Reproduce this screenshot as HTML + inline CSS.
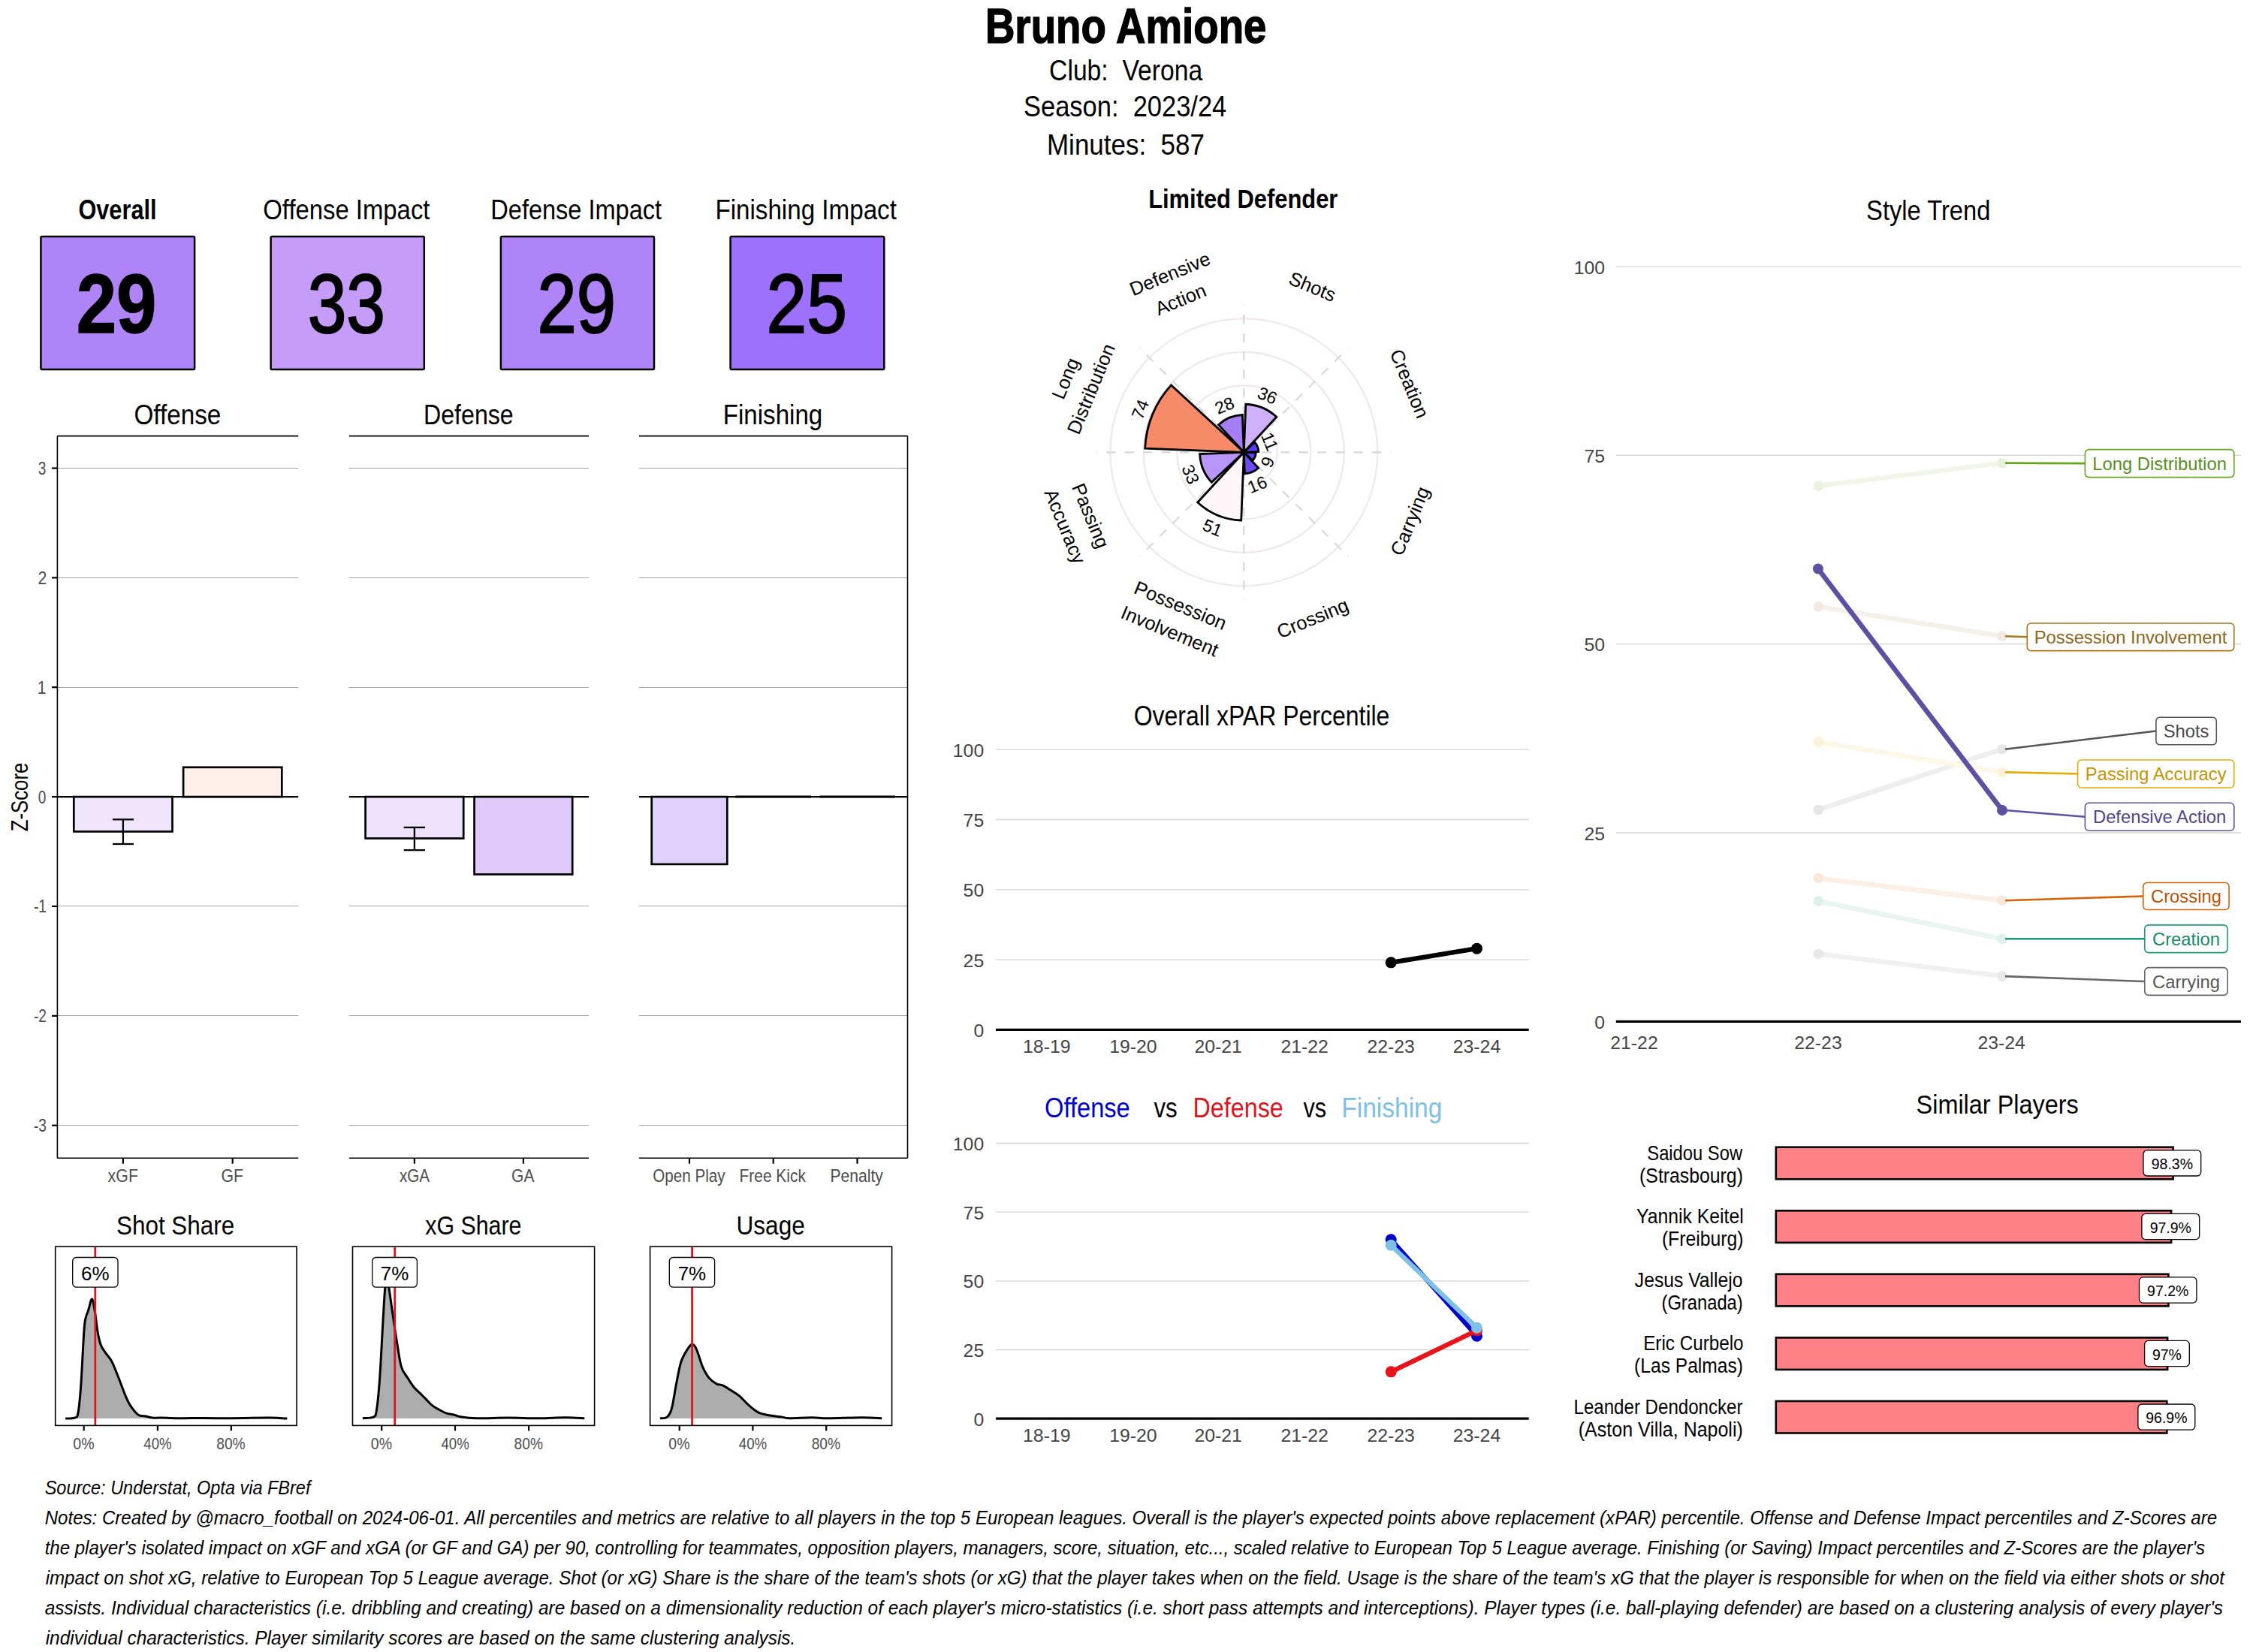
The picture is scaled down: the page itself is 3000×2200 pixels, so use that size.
<!DOCTYPE html>
<html><head><meta charset="utf-8"><style>
html,body{margin:0;padding:0;background:#fff;}
svg{display:block;}
text{font-family:"Liberation Sans", sans-serif;white-space:pre;}
</style></head><body>
<svg width="3000" height="2200" viewBox="0 0 3000 2200">
<rect x="0" y="0" width="3000" height="2200" fill="#fff"/>
<text x="1311.90" y="57.20" font-size="64.25" font-weight="bold" font-style="normal" fill="#000" textLength="374.54" lengthAdjust="spacingAndGlyphs" stroke="#000" stroke-width="1.4">Bruno Amione</text>
<text x="1397.09" y="106.90" font-size="38.13" font-weight="normal" font-style="normal" fill="#000" textLength="204.05" lengthAdjust="spacingAndGlyphs" >Club:  Verona</text>
<text x="1363.00" y="154.50" font-size="38.13" font-weight="normal" font-style="normal" fill="#000" textLength="270.23" lengthAdjust="spacingAndGlyphs" >Season:  2023/24</text>
<text x="1394.00" y="205.60" font-size="38.13" font-weight="normal" font-style="normal" fill="#000" textLength="209.85" lengthAdjust="spacingAndGlyphs" >Minutes:  587</text>
<text x="104.40" y="292.10" font-size="36.31" font-weight="bold" font-style="normal" fill="#000" textLength="104.13" lengthAdjust="spacingAndGlyphs" >Overall</text>
<rect x="54.40" y="314.90" width="204.70" height="177.00" fill="#ae84f7" stroke="#000" stroke-width="2.5" rx="1.5"/>
<text x="101.72" y="442.60" font-size="111.03" font-weight="bold" font-style="normal" fill="#000" textLength="106.70" lengthAdjust="spacingAndGlyphs" stroke="#000" stroke-width="1.4">29</text>
<text x="350.30" y="292.10" font-size="36.31" font-weight="normal" font-style="normal" fill="#000" textLength="222.15" lengthAdjust="spacingAndGlyphs" >Offense Impact</text>
<rect x="360.60" y="314.90" width="204.20" height="177.00" fill="#c59df9" stroke="#000" stroke-width="2.5" rx="1.5"/>
<text x="409.68" y="442.60" font-size="111.03" font-weight="normal" font-style="normal" fill="#000" textLength="103.35" lengthAdjust="spacingAndGlyphs" stroke="#000" stroke-width="2.2">33</text>
<text x="653.30" y="292.10" font-size="36.31" font-weight="normal" font-style="normal" fill="#000" textLength="227.79" lengthAdjust="spacingAndGlyphs" >Defense Impact</text>
<rect x="666.90" y="314.90" width="204.10" height="177.00" fill="#ae84f7" stroke="#000" stroke-width="2.5" rx="1.5"/>
<text x="715.47" y="442.60" font-size="111.03" font-weight="normal" font-style="normal" fill="#000" textLength="104.48" lengthAdjust="spacingAndGlyphs" stroke="#000" stroke-width="2.2">29</text>
<text x="952.41" y="292.10" font-size="36.31" font-weight="normal" font-style="normal" fill="#000" textLength="241.48" lengthAdjust="spacingAndGlyphs" >Finishing Impact</text>
<rect x="972.60" y="314.90" width="204.70" height="177.00" fill="#9d71fc" stroke="#000" stroke-width="2.5" rx="1.5"/>
<text x="1020.61" y="442.60" font-size="111.03" font-weight="normal" font-style="normal" fill="#000" textLength="107.46" lengthAdjust="spacingAndGlyphs" stroke="#000" stroke-width="2.2">25</text>
<text x="178.50" y="564.70" font-size="37.71" font-weight="normal" font-style="normal" fill="#000" textLength="115.87" lengthAdjust="spacingAndGlyphs" >Offense</text>
<line x1="76.40" y1="623.50" x2="397.20" y2="623.50" stroke="#a0a0a0" stroke-width="1.0" />
<line x1="76.40" y1="769.50" x2="397.20" y2="769.50" stroke="#a0a0a0" stroke-width="1.0" />
<line x1="76.40" y1="915.50" x2="397.20" y2="915.50" stroke="#a0a0a0" stroke-width="1.0" />
<line x1="76.40" y1="1206.50" x2="397.20" y2="1206.50" stroke="#a0a0a0" stroke-width="1.0" />
<line x1="76.40" y1="1352.50" x2="397.20" y2="1352.50" stroke="#a0a0a0" stroke-width="1.0" />
<line x1="76.40" y1="1498.50" x2="397.20" y2="1498.50" stroke="#a0a0a0" stroke-width="1.0" />
<line x1="76.40" y1="580.60" x2="397.20" y2="580.60" stroke="#000" stroke-width="1.6" />
<line x1="76.40" y1="1542.20" x2="397.20" y2="1542.20" stroke="#000" stroke-width="1.6" />
<text x="563.99" y="564.70" font-size="37.71" font-weight="normal" font-style="normal" fill="#000" textLength="119.76" lengthAdjust="spacingAndGlyphs" >Defense</text>
<line x1="464.80" y1="623.50" x2="784.00" y2="623.50" stroke="#a0a0a0" stroke-width="1.0" />
<line x1="464.80" y1="769.50" x2="784.00" y2="769.50" stroke="#a0a0a0" stroke-width="1.0" />
<line x1="464.80" y1="915.50" x2="784.00" y2="915.50" stroke="#a0a0a0" stroke-width="1.0" />
<line x1="464.80" y1="1206.50" x2="784.00" y2="1206.50" stroke="#a0a0a0" stroke-width="1.0" />
<line x1="464.80" y1="1352.50" x2="784.00" y2="1352.50" stroke="#a0a0a0" stroke-width="1.0" />
<line x1="464.80" y1="1498.50" x2="784.00" y2="1498.50" stroke="#a0a0a0" stroke-width="1.0" />
<line x1="464.80" y1="580.60" x2="784.00" y2="580.60" stroke="#000" stroke-width="1.6" />
<line x1="464.80" y1="1542.20" x2="784.00" y2="1542.20" stroke="#000" stroke-width="1.6" />
<text x="962.80" y="564.70" font-size="37.71" font-weight="normal" font-style="normal" fill="#000" textLength="132.44" lengthAdjust="spacingAndGlyphs" >Finishing</text>
<line x1="850.90" y1="623.50" x2="1208.50" y2="623.50" stroke="#a0a0a0" stroke-width="1.0" />
<line x1="850.90" y1="769.50" x2="1208.50" y2="769.50" stroke="#a0a0a0" stroke-width="1.0" />
<line x1="850.90" y1="915.50" x2="1208.50" y2="915.50" stroke="#a0a0a0" stroke-width="1.0" />
<line x1="850.90" y1="1206.50" x2="1208.50" y2="1206.50" stroke="#a0a0a0" stroke-width="1.0" />
<line x1="850.90" y1="1352.50" x2="1208.50" y2="1352.50" stroke="#a0a0a0" stroke-width="1.0" />
<line x1="850.90" y1="1498.50" x2="1208.50" y2="1498.50" stroke="#a0a0a0" stroke-width="1.0" />
<line x1="850.90" y1="580.60" x2="1208.50" y2="580.60" stroke="#000" stroke-width="1.6" />
<line x1="850.90" y1="1542.20" x2="1208.50" y2="1542.20" stroke="#000" stroke-width="1.6" />
<line x1="76.40" y1="580.60" x2="76.40" y2="1542.20" stroke="#000" stroke-width="1.6" />
<line x1="1208.50" y1="580.60" x2="1208.50" y2="1542.20" stroke="#000" stroke-width="1.6" />
<line x1="69.00" y1="623.49" x2="76.40" y2="623.49" stroke="#000" stroke-width="2.2" />
<text x="50.69" y="631.89" font-size="23.46" font-weight="normal" font-style="normal" fill="#4d4d4d" textLength="10.65" lengthAdjust="spacingAndGlyphs" >3</text>
<line x1="69.00" y1="769.36" x2="76.40" y2="769.36" stroke="#000" stroke-width="2.2" />
<text x="50.58" y="777.76" font-size="23.46" font-weight="normal" font-style="normal" fill="#4d4d4d" textLength="11.83" lengthAdjust="spacingAndGlyphs" >2</text>
<line x1="69.00" y1="915.23" x2="76.40" y2="915.23" stroke="#000" stroke-width="2.2" />
<text x="49.75" y="923.63" font-size="23.46" font-weight="normal" font-style="normal" fill="#4d4d4d" textLength="11.71" lengthAdjust="spacingAndGlyphs" >1</text>
<line x1="69.00" y1="1061.10" x2="76.40" y2="1061.10" stroke="#000" stroke-width="2.2" />
<text x="50.69" y="1069.50" font-size="23.46" font-weight="normal" font-style="normal" fill="#4d4d4d" textLength="10.65" lengthAdjust="spacingAndGlyphs" >0</text>
<line x1="69.00" y1="1206.97" x2="76.40" y2="1206.97" stroke="#000" stroke-width="2.2" />
<text x="44.96" y="1215.37" font-size="23.46" font-weight="normal" font-style="normal" fill="#4d4d4d" textLength="17.03" lengthAdjust="spacingAndGlyphs" >-1</text>
<line x1="69.00" y1="1352.84" x2="76.40" y2="1352.84" stroke="#000" stroke-width="2.2" />
<text x="44.96" y="1361.24" font-size="23.46" font-weight="normal" font-style="normal" fill="#4d4d4d" textLength="17.03" lengthAdjust="spacingAndGlyphs" >-2</text>
<line x1="69.00" y1="1498.71" x2="76.40" y2="1498.71" stroke="#000" stroke-width="2.2" />
<text x="44.96" y="1507.11" font-size="23.46" font-weight="normal" font-style="normal" fill="#4d4d4d" textLength="17.03" lengthAdjust="spacingAndGlyphs" >-3</text>
<g transform="translate(36.9,1061.4) rotate(-90)">
<text x="-45.92" y="0.00" font-size="31.15" font-weight="normal" font-style="normal" fill="#000" textLength="91.67" lengthAdjust="spacingAndGlyphs" >Z-Score</text>
</g>
<line x1="76.40" y1="1061.10" x2="397.20" y2="1061.10" stroke="#000" stroke-width="2.2" />
<line x1="464.80" y1="1061.10" x2="784.00" y2="1061.10" stroke="#000" stroke-width="2.2" />
<line x1="850.90" y1="1061.10" x2="1208.50" y2="1061.10" stroke="#000" stroke-width="2.2" />
<rect x="98.30" y="1061.10" width="131.20" height="46.30" fill="#efe6fd" stroke="#000" stroke-width="2.7" />
<rect x="244.10" y="1021.80" width="131.20" height="39.30" fill="#feefea" stroke="#000" stroke-width="2.7" />
<rect x="486.60" y="1061.10" width="130.60" height="55.40" fill="#ede1fc" stroke="#000" stroke-width="2.7" />
<rect x="631.60" y="1061.10" width="130.60" height="103.30" fill="#e0c9fb" stroke="#000" stroke-width="2.7" />
<rect x="867.70" y="1061.10" width="100.60" height="89.80" fill="#ded1fb" stroke="#000" stroke-width="2.7" />
<line x1="979.40" y1="1061.10" x2="1080.00" y2="1061.10" stroke="#000" stroke-width="3" />
<line x1="1091.20" y1="1061.10" x2="1191.80" y2="1061.10" stroke="#000" stroke-width="3" />
<line x1="163.90" y1="1091.30" x2="163.90" y2="1124.00" stroke="#000" stroke-width="2.3" />
<line x1="150.00" y1="1091.30" x2="178.00" y2="1091.30" stroke="#000" stroke-width="2.3" />
<line x1="150.00" y1="1124.00" x2="178.00" y2="1124.00" stroke="#000" stroke-width="2.3" />
<line x1="551.90" y1="1101.90" x2="551.90" y2="1132.10" stroke="#000" stroke-width="2.3" />
<line x1="537.70" y1="1101.90" x2="566.00" y2="1101.90" stroke="#000" stroke-width="2.3" />
<line x1="537.70" y1="1132.10" x2="566.00" y2="1132.10" stroke="#000" stroke-width="2.3" />
<line x1="163.90" y1="1542.20" x2="163.90" y2="1549.70" stroke="#000" stroke-width="2.2" />
<text x="143.59" y="1573.90" font-size="24.30" font-weight="normal" font-style="normal" fill="#4d4d4d" textLength="40.35" lengthAdjust="spacingAndGlyphs" >xGF</text>
<line x1="309.70" y1="1542.20" x2="309.70" y2="1549.70" stroke="#000" stroke-width="2.2" />
<text x="294.53" y="1573.90" font-size="24.30" font-weight="normal" font-style="normal" fill="#4d4d4d" textLength="29.54" lengthAdjust="spacingAndGlyphs" >GF</text>
<line x1="551.90" y1="1542.20" x2="551.90" y2="1549.70" stroke="#000" stroke-width="2.2" />
<text x="532.00" y="1573.90" font-size="24.30" font-weight="normal" font-style="normal" fill="#4d4d4d" textLength="40.13" lengthAdjust="spacingAndGlyphs" >xGA</text>
<line x1="696.90" y1="1542.20" x2="696.90" y2="1549.70" stroke="#000" stroke-width="2.2" />
<text x="681.11" y="1573.90" font-size="24.30" font-weight="normal" font-style="normal" fill="#4d4d4d" textLength="30.35" lengthAdjust="spacingAndGlyphs" >GA</text>
<line x1="918.00" y1="1542.20" x2="918.00" y2="1549.70" stroke="#000" stroke-width="2.2" />
<text x="869.33" y="1573.90" font-size="24.30" font-weight="normal" font-style="normal" fill="#4d4d4d" textLength="96.33" lengthAdjust="spacingAndGlyphs" >Open Play</text>
<line x1="1029.70" y1="1542.20" x2="1029.70" y2="1549.70" stroke="#000" stroke-width="2.2" />
<text x="984.52" y="1573.90" font-size="24.30" font-weight="normal" font-style="normal" fill="#4d4d4d" textLength="88.32" lengthAdjust="spacingAndGlyphs" >Free Kick</text>
<line x1="1141.50" y1="1542.20" x2="1141.50" y2="1549.70" stroke="#000" stroke-width="2.2" />
<text x="1105.46" y="1573.90" font-size="24.30" font-weight="normal" font-style="normal" fill="#4d4d4d" textLength="70.40" lengthAdjust="spacingAndGlyphs" >Penalty</text>
<!--DENS-->
<text x="155.01" y="1644.20" font-size="34.50" font-weight="normal" font-style="normal" fill="#000" textLength="157.22" lengthAdjust="spacingAndGlyphs" >Shot Share</text>
<path d="M87.04,1889.12 C89.10,1888.95 96.58,1889.30 99.39,1888.10 C102.20,1886.90 102.54,1888.78 103.92,1881.92 C105.29,1875.06 106.32,1864.77 107.62,1846.94 C108.92,1829.10 110.71,1790.01 111.73,1774.92 C112.76,1759.82 112.76,1761.54 113.79,1756.39 C114.82,1751.25 116.60,1748.33 117.91,1744.05 C119.21,1739.76 120.58,1732.39 121.61,1730.67 C122.64,1728.96 123.16,1730.16 124.08,1733.76 C125.01,1737.36 126.14,1745.42 127.17,1752.28 C128.20,1759.14 129.05,1768.40 130.26,1774.92 C131.46,1781.43 132.66,1786.92 134.37,1791.38 C136.09,1795.84 138.14,1798.07 140.54,1801.67 C142.95,1805.27 146.03,1807.84 148.78,1812.98 C151.52,1818.13 153.92,1824.82 157.01,1832.53 C160.09,1840.25 164.55,1852.77 167.30,1859.29 C170.04,1865.80 170.73,1867.52 173.47,1871.63 C176.21,1875.75 181.01,1881.65 183.76,1883.98 C186.50,1886.31 188.22,1885.28 189.93,1885.63 C191.65,1885.97 191.99,1885.63 194.05,1886.04 C196.11,1886.45 198.85,1887.75 202.28,1888.10 C205.71,1888.44 209.14,1887.99 214.63,1888.10 C220.11,1888.20 228.34,1888.64 235.20,1888.71 C242.06,1888.78 245.49,1888.51 255.78,1888.51 C266.07,1888.51 279.79,1888.78 296.94,1888.71 C314.09,1888.64 344.44,1888.03 358.67,1888.10 C372.91,1888.16 378.39,1888.95 382.34,1889.12 L382.34,1889.10 L87.04,1889.10 Z" fill="#adadad" stroke="none"/>
<path d="M87.04,1889.12 C89.10,1888.95 96.58,1889.30 99.39,1888.10 C102.20,1886.90 102.54,1888.78 103.92,1881.92 C105.29,1875.06 106.32,1864.77 107.62,1846.94 C108.92,1829.10 110.71,1790.01 111.73,1774.92 C112.76,1759.82 112.76,1761.54 113.79,1756.39 C114.82,1751.25 116.60,1748.33 117.91,1744.05 C119.21,1739.76 120.58,1732.39 121.61,1730.67 C122.64,1728.96 123.16,1730.16 124.08,1733.76 C125.01,1737.36 126.14,1745.42 127.17,1752.28 C128.20,1759.14 129.05,1768.40 130.26,1774.92 C131.46,1781.43 132.66,1786.92 134.37,1791.38 C136.09,1795.84 138.14,1798.07 140.54,1801.67 C142.95,1805.27 146.03,1807.84 148.78,1812.98 C151.52,1818.13 153.92,1824.82 157.01,1832.53 C160.09,1840.25 164.55,1852.77 167.30,1859.29 C170.04,1865.80 170.73,1867.52 173.47,1871.63 C176.21,1875.75 181.01,1881.65 183.76,1883.98 C186.50,1886.31 188.22,1885.28 189.93,1885.63 C191.65,1885.97 191.99,1885.63 194.05,1886.04 C196.11,1886.45 198.85,1887.75 202.28,1888.10 C205.71,1888.44 209.14,1887.99 214.63,1888.10 C220.11,1888.20 228.34,1888.64 235.20,1888.71 C242.06,1888.78 245.49,1888.51 255.78,1888.51 C266.07,1888.51 279.79,1888.78 296.94,1888.71 C314.09,1888.64 344.44,1888.03 358.67,1888.10 C372.91,1888.16 378.39,1888.95 382.34,1889.12" fill="none" stroke="#000" stroke-width="3.0" stroke-linejoin="round"/>
<line x1="126.80" y1="1660.10" x2="126.80" y2="1898.40" stroke="#dc1420" stroke-width="2.8" />
<rect x="96.70" y="1674.50" width="60.30" height="39.70" fill="#fff" stroke="#000" stroke-width="1.3" rx="5"/>
<text x="126.85" y="1705.00" font-size="26.00" font-weight="normal" fill="#000" text-anchor="middle" >6%</text>
<rect x="73.70" y="1660.10" width="321.40" height="238.30" fill="none" stroke="#000" stroke-width="1.6" />
<line x1="111.70" y1="1898.40" x2="111.70" y2="1905.40" stroke="#000" stroke-width="2.2" />
<text x="97.32" y="1930.30" font-size="22.07" font-weight="normal" font-style="normal" fill="#4d4d4d" textLength="28.25" lengthAdjust="spacingAndGlyphs" >0%</text>
<line x1="209.90" y1="1898.40" x2="209.90" y2="1905.40" stroke="#000" stroke-width="2.2" />
<text x="191.36" y="1930.30" font-size="22.07" font-weight="normal" font-style="normal" fill="#4d4d4d" textLength="37.35" lengthAdjust="spacingAndGlyphs" >40%</text>
<line x1="307.80" y1="1898.40" x2="307.80" y2="1905.40" stroke="#000" stroke-width="2.2" />
<text x="288.26" y="1930.30" font-size="22.07" font-weight="normal" font-style="normal" fill="#4d4d4d" textLength="38.41" lengthAdjust="spacingAndGlyphs" >80%</text>
<text x="566.30" y="1644.20" font-size="34.50" font-weight="normal" font-style="normal" fill="#000" textLength="128.03" lengthAdjust="spacingAndGlyphs" >xG Share</text>
<path d="M482.93,1888.71 C485.33,1888.44 494.24,1888.88 497.33,1887.07 C500.42,1885.25 500.07,1886.21 501.45,1877.81 C502.82,1869.40 504.19,1855.51 505.56,1836.65 C506.93,1817.79 508.48,1784.86 509.68,1764.63 C510.88,1744.39 511.80,1724.84 512.76,1715.24 C513.72,1705.64 514.58,1707.01 515.44,1707.01 C516.30,1707.01 516.81,1709.06 517.91,1715.24 C519.01,1721.41 520.31,1732.39 522.02,1744.05 C523.74,1755.71 526.14,1772.51 528.20,1785.20 C530.26,1797.89 531.97,1811.96 534.37,1820.19 C536.77,1828.42 539.86,1830.13 542.60,1834.59 C545.35,1839.05 548.09,1843.51 550.83,1846.94 C553.58,1850.37 556.32,1852.43 559.06,1855.17 C561.81,1857.91 564.55,1860.66 567.30,1863.40 C570.04,1866.15 572.78,1869.40 575.53,1871.63 C578.27,1873.86 580.67,1875.06 583.76,1876.78 C586.85,1878.49 590.62,1880.72 594.05,1881.92 C597.48,1883.12 600.91,1883.12 604.34,1883.98 C607.77,1884.84 609.48,1886.28 614.63,1887.07 C619.77,1887.86 624.92,1888.54 635.20,1888.71 C645.49,1888.88 662.64,1888.10 676.36,1888.10 C690.08,1888.10 704.83,1888.78 717.52,1888.71 C730.21,1888.64 742.38,1887.68 752.50,1887.68 C762.62,1887.68 773.94,1888.54 778.22,1888.71 L778.22,1889.10 L482.93,1889.10 Z" fill="#adadad" stroke="none"/>
<path d="M482.93,1888.71 C485.33,1888.44 494.24,1888.88 497.33,1887.07 C500.42,1885.25 500.07,1886.21 501.45,1877.81 C502.82,1869.40 504.19,1855.51 505.56,1836.65 C506.93,1817.79 508.48,1784.86 509.68,1764.63 C510.88,1744.39 511.80,1724.84 512.76,1715.24 C513.72,1705.64 514.58,1707.01 515.44,1707.01 C516.30,1707.01 516.81,1709.06 517.91,1715.24 C519.01,1721.41 520.31,1732.39 522.02,1744.05 C523.74,1755.71 526.14,1772.51 528.20,1785.20 C530.26,1797.89 531.97,1811.96 534.37,1820.19 C536.77,1828.42 539.86,1830.13 542.60,1834.59 C545.35,1839.05 548.09,1843.51 550.83,1846.94 C553.58,1850.37 556.32,1852.43 559.06,1855.17 C561.81,1857.91 564.55,1860.66 567.30,1863.40 C570.04,1866.15 572.78,1869.40 575.53,1871.63 C578.27,1873.86 580.67,1875.06 583.76,1876.78 C586.85,1878.49 590.62,1880.72 594.05,1881.92 C597.48,1883.12 600.91,1883.12 604.34,1883.98 C607.77,1884.84 609.48,1886.28 614.63,1887.07 C619.77,1887.86 624.92,1888.54 635.20,1888.71 C645.49,1888.88 662.64,1888.10 676.36,1888.10 C690.08,1888.10 704.83,1888.78 717.52,1888.71 C730.21,1888.64 742.38,1887.68 752.50,1887.68 C762.62,1887.68 773.94,1888.54 778.22,1888.71" fill="none" stroke="#000" stroke-width="3.0" stroke-linejoin="round"/>
<line x1="525.70" y1="1660.10" x2="525.70" y2="1898.40" stroke="#dc1420" stroke-width="2.8" />
<rect x="495.70" y="1674.50" width="59.70" height="39.70" fill="#fff" stroke="#000" stroke-width="1.3" rx="5"/>
<text x="525.55" y="1705.00" font-size="26.00" font-weight="normal" fill="#000" text-anchor="middle" >7%</text>
<rect x="469.50" y="1660.10" width="322.10" height="238.30" fill="none" stroke="#000" stroke-width="1.6" />
<line x1="508.20" y1="1898.40" x2="508.20" y2="1905.40" stroke="#000" stroke-width="2.2" />
<text x="493.82" y="1930.30" font-size="22.07" font-weight="normal" font-style="normal" fill="#4d4d4d" textLength="28.25" lengthAdjust="spacingAndGlyphs" >0%</text>
<line x1="606.00" y1="1898.40" x2="606.00" y2="1905.40" stroke="#000" stroke-width="2.2" />
<text x="587.46" y="1930.30" font-size="22.07" font-weight="normal" font-style="normal" fill="#4d4d4d" textLength="37.35" lengthAdjust="spacingAndGlyphs" >40%</text>
<line x1="704.10" y1="1898.40" x2="704.10" y2="1905.40" stroke="#000" stroke-width="2.2" />
<text x="684.56" y="1930.30" font-size="22.07" font-weight="normal" font-style="normal" fill="#4d4d4d" textLength="38.41" lengthAdjust="spacingAndGlyphs" >80%</text>
<text x="980.50" y="1644.20" font-size="34.50" font-weight="normal" font-style="normal" fill="#000" textLength="91.34" lengthAdjust="spacingAndGlyphs" >Usage</text>
<path d="M878.95,1888.71 C880.50,1888.44 885.64,1889.23 888.21,1887.07 C890.79,1884.91 892.33,1883.12 894.39,1875.75 C896.45,1868.37 898.50,1853.11 900.56,1842.82 C902.62,1832.53 904.33,1821.56 906.73,1814.01 C909.14,1806.47 912.50,1801.50 914.97,1797.55 C917.44,1793.61 919.49,1790.52 921.55,1790.35 C923.61,1790.18 924.98,1791.55 927.31,1796.52 C929.65,1801.50 932.80,1813.84 935.54,1820.19 C938.29,1826.53 940.69,1830.82 943.78,1834.59 C946.86,1838.36 950.98,1841.11 954.06,1842.82 C957.15,1844.54 959.21,1843.51 962.30,1844.88 C965.38,1846.25 968.81,1848.65 972.59,1851.05 C976.36,1853.46 980.82,1855.86 984.93,1859.29 C989.05,1862.72 993.16,1868.03 997.28,1871.63 C1001.39,1875.23 1005.85,1878.84 1009.63,1880.89 C1013.40,1882.95 1014.77,1882.95 1019.92,1883.98 C1025.06,1885.01 1035.35,1886.28 1040.49,1887.07 C1045.64,1887.86 1043.92,1888.61 1050.78,1888.71 C1057.64,1888.82 1073.08,1887.68 1081.65,1887.68 C1090.22,1887.68 1091.25,1888.71 1102.23,1888.71 C1113.20,1888.71 1135.50,1887.68 1147.50,1887.68 C1159.50,1887.68 1169.79,1888.54 1174.25,1888.71 L1174.25,1889.10 L878.95,1889.10 Z" fill="#adadad" stroke="none"/>
<path d="M878.95,1888.71 C880.50,1888.44 885.64,1889.23 888.21,1887.07 C890.79,1884.91 892.33,1883.12 894.39,1875.75 C896.45,1868.37 898.50,1853.11 900.56,1842.82 C902.62,1832.53 904.33,1821.56 906.73,1814.01 C909.14,1806.47 912.50,1801.50 914.97,1797.55 C917.44,1793.61 919.49,1790.52 921.55,1790.35 C923.61,1790.18 924.98,1791.55 927.31,1796.52 C929.65,1801.50 932.80,1813.84 935.54,1820.19 C938.29,1826.53 940.69,1830.82 943.78,1834.59 C946.86,1838.36 950.98,1841.11 954.06,1842.82 C957.15,1844.54 959.21,1843.51 962.30,1844.88 C965.38,1846.25 968.81,1848.65 972.59,1851.05 C976.36,1853.46 980.82,1855.86 984.93,1859.29 C989.05,1862.72 993.16,1868.03 997.28,1871.63 C1001.39,1875.23 1005.85,1878.84 1009.63,1880.89 C1013.40,1882.95 1014.77,1882.95 1019.92,1883.98 C1025.06,1885.01 1035.35,1886.28 1040.49,1887.07 C1045.64,1887.86 1043.92,1888.61 1050.78,1888.71 C1057.64,1888.82 1073.08,1887.68 1081.65,1887.68 C1090.22,1887.68 1091.25,1888.71 1102.23,1888.71 C1113.20,1888.71 1135.50,1887.68 1147.50,1887.68 C1159.50,1887.68 1169.79,1888.54 1174.25,1888.71" fill="none" stroke="#000" stroke-width="3.0" stroke-linejoin="round"/>
<line x1="921.60" y1="1660.10" x2="921.60" y2="1898.40" stroke="#dc1420" stroke-width="2.8" />
<rect x="891.30" y="1674.50" width="60.30" height="39.70" fill="#fff" stroke="#000" stroke-width="1.3" rx="5"/>
<text x="921.45" y="1705.00" font-size="26.00" font-weight="normal" fill="#000" text-anchor="middle" >7%</text>
<rect x="865.60" y="1660.10" width="322.00" height="238.30" fill="none" stroke="#000" stroke-width="1.6" />
<line x1="904.70" y1="1898.40" x2="904.70" y2="1905.40" stroke="#000" stroke-width="2.2" />
<text x="890.32" y="1930.30" font-size="22.07" font-weight="normal" font-style="normal" fill="#4d4d4d" textLength="28.25" lengthAdjust="spacingAndGlyphs" >0%</text>
<line x1="1002.40" y1="1898.40" x2="1002.40" y2="1905.40" stroke="#000" stroke-width="2.2" />
<text x="983.86" y="1930.30" font-size="22.07" font-weight="normal" font-style="normal" fill="#4d4d4d" textLength="37.35" lengthAdjust="spacingAndGlyphs" >40%</text>
<line x1="1100.20" y1="1898.40" x2="1100.20" y2="1905.40" stroke="#000" stroke-width="2.2" />
<text x="1080.66" y="1930.30" font-size="22.07" font-weight="normal" font-style="normal" fill="#4d4d4d" textLength="38.41" lengthAdjust="spacingAndGlyphs" >80%</text>
<text x="1529.20" y="276.80" font-size="34.50" font-weight="bold" font-style="normal" fill="#000" textLength="252.17" lengthAdjust="spacingAndGlyphs" >Limited Defender</text>
<circle cx="1656.3" cy="602.3" r="44.50" fill="none" stroke="#f0e8ea" stroke-width="2.3"/>
<circle cx="1656.3" cy="602.3" r="89.00" fill="none" stroke="#f0e8ea" stroke-width="2.3"/>
<circle cx="1656.3" cy="602.3" r="133.50" fill="none" stroke="#f0e8ea" stroke-width="2.3"/>
<circle cx="1656.3" cy="602.3" r="178.00" fill="none" stroke="#f0e8ea" stroke-width="2.3"/>
<line x1="1656.30" y1="602.30" x2="1656.30" y2="406.30" stroke="#d8d8d8" stroke-width="2.2" stroke-dasharray="12.2 12.2"/>
<line x1="1656.30" y1="602.30" x2="1794.89" y2="463.71" stroke="#d8d8d8" stroke-width="2.2" stroke-dasharray="12.2 12.2"/>
<line x1="1656.30" y1="602.30" x2="1852.30" y2="602.30" stroke="#d8d8d8" stroke-width="2.2" stroke-dasharray="12.2 12.2"/>
<line x1="1656.30" y1="602.30" x2="1794.89" y2="740.89" stroke="#d8d8d8" stroke-width="2.2" stroke-dasharray="12.2 12.2"/>
<line x1="1656.30" y1="602.30" x2="1656.30" y2="798.30" stroke="#d8d8d8" stroke-width="2.2" stroke-dasharray="12.2 12.2"/>
<line x1="1656.30" y1="602.30" x2="1517.71" y2="740.89" stroke="#d8d8d8" stroke-width="2.2" stroke-dasharray="12.2 12.2"/>
<line x1="1656.30" y1="602.30" x2="1460.30" y2="602.30" stroke="#d8d8d8" stroke-width="2.2" stroke-dasharray="12.2 12.2"/>
<line x1="1656.30" y1="602.30" x2="1517.71" y2="463.71" stroke="#d8d8d8" stroke-width="2.2" stroke-dasharray="12.2 12.2"/>
<path d="M1656.30,602.30 L1658.82,538.27 A64.08,64.08 0 0 1 1699.80,555.24 Z" fill="#cfb0fa" stroke="#000" stroke-width="2.8" stroke-linejoin="miter"/>
<path d="M1656.30,602.30 L1670.68,589.01 A19.58,19.58 0 0 1 1675.86,601.53 Z" fill="#5b3bf5" stroke="#000" stroke-width="2.8" stroke-linejoin="miter"/>
<path d="M1656.30,602.30 L1672.31,602.93 A16.02,16.02 0 0 1 1668.06,613.17 Z" fill="#6440f3" stroke="#000" stroke-width="2.8" stroke-linejoin="miter"/>
<path d="M1656.30,602.30 L1675.63,623.21 A28.48,28.48 0 0 1 1657.42,630.76 Z" fill="#6e4cf5" stroke="#000" stroke-width="2.8" stroke-linejoin="miter"/>
<path d="M1656.30,602.30 L1652.74,693.01 A90.78,90.78 0 0 1 1594.68,668.96 Z" fill="#fdf5f8" stroke="#000" stroke-width="2.8" stroke-linejoin="miter"/>
<path d="M1656.30,602.30 L1613.17,642.17 A58.74,58.74 0 0 1 1597.61,604.61 Z" fill="#b896f9" stroke="#000" stroke-width="2.8" stroke-linejoin="miter"/>
<path d="M1656.30,602.30 L1524.68,597.13 A131.72,131.72 0 0 1 1559.58,512.89 Z" fill="#f68a69" stroke="#000" stroke-width="2.8" stroke-linejoin="miter"/>
<path d="M1656.30,602.30 L1622.47,565.70 A49.84,49.84 0 0 1 1654.34,552.50 Z" fill="#a57ef6" stroke="#000" stroke-width="2.8" stroke-linejoin="miter"/>
<text transform="translate(1687.63,526.65) rotate(22.5)" x="0" y="8.2" font-size="23" text-anchor="middle" fill="#000">36</text>
<g transform="translate(1747.76,381.49) rotate(22.5)">
<text x="0" y="9.1" font-size="25.5" text-anchor="middle" fill="#000">Shots</text>
</g>
<text transform="translate(1690.83,588.00) rotate(67.5)" x="0" y="8.2" font-size="23" text-anchor="middle" fill="#000">11</text>
<g transform="translate(1877.11,510.84) rotate(67.5)">
<text x="0" y="9.1" font-size="25.5" text-anchor="middle" fill="#000">Creation</text>
</g>
<text transform="translate(1687.55,615.24) rotate(-67.5)" x="0" y="8.2" font-size="23" text-anchor="middle" fill="#000">9</text>
<g transform="translate(1877.11,693.76) rotate(-67.5)">
<text x="0" y="9.1" font-size="25.5" text-anchor="middle" fill="#000">Carrying</text>
</g>
<text transform="translate(1674.01,645.06) rotate(-22.5)" x="0" y="8.2" font-size="23" text-anchor="middle" fill="#000">16</text>
<g transform="translate(1747.76,823.11) rotate(-22.5)">
<text x="0" y="9.1" font-size="25.5" text-anchor="middle" fill="#000">Crossing</text>
</g>
<text transform="translate(1614.75,702.61) rotate(22.5)" x="0" y="8.2" font-size="23" text-anchor="middle" fill="#000">51</text>
<g transform="translate(1564.84,823.11) rotate(22.5)">
<text x="0" y="-9.40" font-size="25.5" text-anchor="middle" fill="#000">Possession</text>
<text x="0" y="27.60" font-size="25.5" text-anchor="middle" fill="#000">Involvement</text>
</g>
<text transform="translate(1585.59,631.59) rotate(67.5)" x="0" y="8.2" font-size="23" text-anchor="middle" fill="#000">33</text>
<g transform="translate(1435.49,693.76) rotate(67.5)">
<text x="0" y="-9.40" font-size="25.5" text-anchor="middle" fill="#000">Passing</text>
<text x="0" y="27.60" font-size="25.5" text-anchor="middle" fill="#000">Accuracy</text>
</g>
<text transform="translate(1518.16,545.08) rotate(-67.5)" x="0" y="8.2" font-size="23" text-anchor="middle" fill="#000">74</text>
<g transform="translate(1435.49,510.84) rotate(-67.5)">
<text x="0" y="-9.40" font-size="25.5" text-anchor="middle" fill="#000">Long</text>
<text x="0" y="27.60" font-size="25.5" text-anchor="middle" fill="#000">Distribution</text>
</g>
<text transform="translate(1630.42,539.81) rotate(-22.5)" x="0" y="8.2" font-size="23" text-anchor="middle" fill="#000">28</text>
<g transform="translate(1564.84,381.49) rotate(-22.5)">
<text x="0" y="-9.40" font-size="25.5" text-anchor="middle" fill="#000">Defensive</text>
<text x="0" y="27.60" font-size="25.5" text-anchor="middle" fill="#000">Action</text>
</g>
<text x="1509.69" y="965.80" font-size="37.71" font-weight="normal" font-style="normal" fill="#000" textLength="340.70" lengthAdjust="spacingAndGlyphs" >Overall xPAR Percentile</text>
<line x1="1326.00" y1="998.20" x2="2035.70" y2="998.20" stroke="#d4d4d4" stroke-width="1.3" />
<text x="1310.20" y="1007.80" font-size="24.80" font-weight="normal" fill="#444444" text-anchor="end" >100</text>
<line x1="1326.00" y1="1091.50" x2="2035.70" y2="1091.50" stroke="#d4d4d4" stroke-width="1.3" />
<text x="1310.20" y="1101.10" font-size="24.80" font-weight="normal" fill="#444444" text-anchor="end" >75</text>
<line x1="1326.00" y1="1184.80" x2="2035.70" y2="1184.80" stroke="#d4d4d4" stroke-width="1.3" />
<text x="1310.20" y="1194.40" font-size="24.80" font-weight="normal" fill="#444444" text-anchor="end" >50</text>
<line x1="1326.00" y1="1278.10" x2="2035.70" y2="1278.10" stroke="#d4d4d4" stroke-width="1.3" />
<text x="1310.20" y="1287.70" font-size="24.80" font-weight="normal" fill="#444444" text-anchor="end" >25</text>
<text x="1310.20" y="1381.00" font-size="24.80" font-weight="normal" fill="#444444" text-anchor="end" >0</text>
<line x1="1326.00" y1="1371.40" x2="2035.70" y2="1371.40" stroke="#000" stroke-width="3.2" />
<text x="1393.80" y="1402.30" font-size="24.80" font-weight="normal" fill="#444444" text-anchor="middle" >18-19</text>
<text x="1508.90" y="1402.30" font-size="24.80" font-weight="normal" fill="#444444" text-anchor="middle" >19-20</text>
<text x="1622.10" y="1402.30" font-size="24.80" font-weight="normal" fill="#444444" text-anchor="middle" >20-21</text>
<text x="1737.10" y="1402.30" font-size="24.80" font-weight="normal" fill="#444444" text-anchor="middle" >21-22</text>
<text x="1852.20" y="1402.30" font-size="24.80" font-weight="normal" fill="#444444" text-anchor="middle" >22-23</text>
<text x="1966.50" y="1402.30" font-size="24.80" font-weight="normal" fill="#444444" text-anchor="middle" >23-24</text>
<line x1="1852.20" y1="1281.83" x2="1966.50" y2="1263.17" stroke="#000" stroke-width="6.2" stroke-linecap="round"/>
<circle cx="1852.20" cy="1281.83" r="7.5" fill="#000"/>
<circle cx="1966.50" cy="1263.17" r="7.5" fill="#000"/>
<text x="1391.09" y="1488.30" font-size="36.31" font-weight="normal" font-style="normal" fill="#0000cd" textLength="113.67" lengthAdjust="spacingAndGlyphs" >Offense</text>
<text x="1536.50" y="1488.30" font-size="36.31" font-weight="normal" font-style="normal" fill="#000" textLength="31.19" lengthAdjust="spacingAndGlyphs" >vs</text>
<text x="1588.51" y="1488.30" font-size="36.31" font-weight="normal" font-style="normal" fill="#e0141e" textLength="120.34" lengthAdjust="spacingAndGlyphs" >Defense</text>
<text x="1735.40" y="1488.30" font-size="36.31" font-weight="normal" font-style="normal" fill="#000" textLength="30.67" lengthAdjust="spacingAndGlyphs" >vs</text>
<text x="1786.28" y="1488.30" font-size="36.31" font-weight="normal" font-style="normal" fill="#7ec0e6" textLength="134.07" lengthAdjust="spacingAndGlyphs" >Finishing</text>
<line x1="1326.00" y1="1522.50" x2="2035.70" y2="1522.50" stroke="#d4d4d4" stroke-width="1.3" />
<text x="1310.20" y="1532.10" font-size="24.80" font-weight="normal" fill="#444444" text-anchor="end" >100</text>
<line x1="1326.00" y1="1614.17" x2="2035.70" y2="1614.17" stroke="#d4d4d4" stroke-width="1.3" />
<text x="1310.20" y="1623.77" font-size="24.80" font-weight="normal" fill="#444444" text-anchor="end" >75</text>
<line x1="1326.00" y1="1705.85" x2="2035.70" y2="1705.85" stroke="#d4d4d4" stroke-width="1.3" />
<text x="1310.20" y="1715.45" font-size="24.80" font-weight="normal" fill="#444444" text-anchor="end" >50</text>
<line x1="1326.00" y1="1797.53" x2="2035.70" y2="1797.53" stroke="#d4d4d4" stroke-width="1.3" />
<text x="1310.20" y="1807.12" font-size="24.80" font-weight="normal" fill="#444444" text-anchor="end" >25</text>
<text x="1310.20" y="1898.80" font-size="24.80" font-weight="normal" fill="#444444" text-anchor="end" >0</text>
<line x1="1326.00" y1="1889.20" x2="2035.70" y2="1889.20" stroke="#000" stroke-width="3.2" />
<text x="1393.80" y="1920.40" font-size="24.80" font-weight="normal" fill="#444444" text-anchor="middle" >18-19</text>
<text x="1508.90" y="1920.40" font-size="24.80" font-weight="normal" fill="#444444" text-anchor="middle" >19-20</text>
<text x="1622.10" y="1920.40" font-size="24.80" font-weight="normal" fill="#444444" text-anchor="middle" >20-21</text>
<text x="1737.10" y="1920.40" font-size="24.80" font-weight="normal" fill="#444444" text-anchor="middle" >21-22</text>
<text x="1852.20" y="1920.40" font-size="24.80" font-weight="normal" fill="#444444" text-anchor="middle" >22-23</text>
<text x="1966.50" y="1920.40" font-size="24.80" font-weight="normal" fill="#444444" text-anchor="middle" >23-24</text>
<line x1="1852.20" y1="1650.85" x2="1966.50" y2="1779.19" stroke="#0000cd" stroke-width="6.2" stroke-linecap="round"/>
<circle cx="1852.20" cy="1650.85" r="7.5" fill="#0000cd"/>
<circle cx="1966.50" cy="1779.19" r="7.5" fill="#0000cd"/>
<line x1="1852.20" y1="1826.86" x2="1966.50" y2="1771.86" stroke="#e8131b" stroke-width="6.2" stroke-linecap="round"/>
<circle cx="1852.20" cy="1826.86" r="7.5" fill="#e8131b"/>
<circle cx="1966.50" cy="1771.86" r="7.5" fill="#e8131b"/>
<line x1="1852.20" y1="1658.18" x2="1966.50" y2="1768.19" stroke="#7ec0e6" stroke-width="6.2" stroke-linecap="round"/>
<circle cx="1852.20" cy="1658.18" r="7.5" fill="#7ec0e6"/>
<circle cx="1966.50" cy="1768.19" r="7.5" fill="#7ec0e6"/>
<text x="2485.10" y="292.60" font-size="37.71" font-weight="normal" font-style="normal" fill="#000" textLength="165.25" lengthAdjust="spacingAndGlyphs" >Style Trend</text>
<line x1="2151.80" y1="355.10" x2="2984.00" y2="355.10" stroke="#d4d4d4" stroke-width="1.3" />
<line x1="2151.80" y1="606.40" x2="2984.00" y2="606.40" stroke="#d4d4d4" stroke-width="1.3" />
<line x1="2151.80" y1="857.70" x2="2984.00" y2="857.70" stroke="#d4d4d4" stroke-width="1.3" />
<line x1="2151.80" y1="1109.00" x2="2984.00" y2="1109.00" stroke="#d4d4d4" stroke-width="1.3" />
<text x="2137.00" y="364.70" font-size="24.80" font-weight="normal" fill="#444444" text-anchor="end" >100</text>
<text x="2137.00" y="616.00" font-size="24.80" font-weight="normal" fill="#444444" text-anchor="end" >75</text>
<text x="2137.00" y="867.30" font-size="24.80" font-weight="normal" fill="#444444" text-anchor="end" >50</text>
<text x="2137.00" y="1118.60" font-size="24.80" font-weight="normal" fill="#444444" text-anchor="end" >25</text>
<text x="2137.00" y="1369.90" font-size="24.80" font-weight="normal" fill="#444444" text-anchor="end" >0</text>
<line x1="2151.80" y1="1360.30" x2="2984.00" y2="1360.30" stroke="#000" stroke-width="3.2" />
<text x="2176.00" y="1396.90" font-size="24.80" font-weight="normal" fill="#444444" text-anchor="middle" >21-22</text>
<text x="2421.00" y="1396.90" font-size="24.80" font-weight="normal" fill="#444444" text-anchor="middle" >22-23</text>
<text x="2665.10" y="1396.90" font-size="24.80" font-weight="normal" fill="#444444" text-anchor="middle" >23-24</text>
<line x1="2420.90" y1="647.00" x2="2666.00" y2="616.60" stroke="#f0f6e8" stroke-width="6.5" stroke-linecap="round"/>
<circle cx="2421.4" cy="647.0" r="6.8" fill="#e8f2dd"/>
<circle cx="2666.0" cy="616.6" r="6.8" fill="#e8f2dd"/>
<line x1="2420.90" y1="807.80" x2="2666.00" y2="847.30" stroke="#f6f1e8" stroke-width="6.5" stroke-linecap="round"/>
<circle cx="2421.4" cy="807.8" r="6.8" fill="#f2eadd"/>
<circle cx="2666.0" cy="847.3" r="6.8" fill="#f2eadd"/>
<line x1="2420.90" y1="1078.40" x2="2666.00" y2="997.70" stroke="#eeeeee" stroke-width="6.5" stroke-linecap="round"/>
<circle cx="2421.4" cy="1078.4" r="6.8" fill="#e6e6e6"/>
<circle cx="2666.0" cy="997.7" r="6.8" fill="#e6e6e6"/>
<line x1="2420.90" y1="987.90" x2="2666.00" y2="1028.40" stroke="#fcf7e6" stroke-width="6.5" stroke-linecap="round"/>
<circle cx="2421.4" cy="987.9" r="6.8" fill="#fbf2d9"/>
<circle cx="2666.0" cy="1028.4" r="6.8" fill="#fbf2d9"/>
<line x1="2420.90" y1="1169.40" x2="2666.00" y2="1199.20" stroke="#fbefe6" stroke-width="6.5" stroke-linecap="round"/>
<circle cx="2421.4" cy="1169.4" r="6.8" fill="#f9e7d9"/>
<circle cx="2666.0" cy="1199.2" r="6.8" fill="#f9e7d9"/>
<line x1="2420.90" y1="1200.00" x2="2666.00" y2="1250.30" stroke="#e8f5f1" stroke-width="6.5" stroke-linecap="round"/>
<circle cx="2421.4" cy="1200.0" r="6.8" fill="#ddf0eb"/>
<circle cx="2666.0" cy="1250.3" r="6.8" fill="#ddf0eb"/>
<line x1="2420.90" y1="1270.30" x2="2666.00" y2="1300.10" stroke="#f0f0f0" stroke-width="6.5" stroke-linecap="round"/>
<circle cx="2421.4" cy="1270.3" r="6.8" fill="#e8e8e8"/>
<circle cx="2666.0" cy="1300.1" r="6.8" fill="#e8e8e8"/>
<line x1="2420.90" y1="757.50" x2="2666.00" y2="1079.00" stroke="#5e50a1" stroke-width="6.5" stroke-linecap="round"/>
<circle cx="2420.9" cy="757.5" r="7" fill="#5e50a1"/>
<circle cx="2666.0" cy="1079.0" r="7" fill="#5e50a1"/>
<line x1="2670.00" y1="616.60" x2="2776.40" y2="617.10" stroke="#66a61e" stroke-width="2.6" />
<rect x="2776.40" y="598.60" width="198.40" height="37.00" fill="#fff" stroke="#66a61e" stroke-width="1.6" rx="5"/>
<text x="2875.60" y="625.60" font-size="23.80" font-weight="normal" fill="#588f1a" text-anchor="middle" >Long Distribution</text>
<line x1="2670.00" y1="847.30" x2="2699.30" y2="848.30" stroke="#a6761d" stroke-width="2.6" />
<rect x="2699.30" y="830.00" width="275.50" height="36.60" fill="#fff" stroke="#a6761d" stroke-width="1.6" rx="5"/>
<text x="2837.05" y="856.80" font-size="23.80" font-weight="normal" fill="#8f6519" text-anchor="middle" >Possession Involvement</text>
<line x1="2670.00" y1="997.70" x2="2870.90" y2="973.50" stroke="#555555" stroke-width="2.6" />
<rect x="2870.90" y="955.20" width="80.40" height="36.60" fill="#fff" stroke="#555555" stroke-width="1.6" rx="5"/>
<text x="2911.10" y="982.00" font-size="23.80" font-weight="normal" fill="#494949" text-anchor="middle" >Shots</text>
<line x1="2670.00" y1="1028.40" x2="2766.60" y2="1030.50" stroke="#e6ab02" stroke-width="2.6" />
<rect x="2766.60" y="1012.00" width="208.20" height="37.00" fill="#fff" stroke="#e6ab02" stroke-width="1.6" rx="5"/>
<text x="2870.70" y="1039.00" font-size="23.80" font-weight="normal" fill="#c69302" text-anchor="middle" >Passing Accuracy</text>
<line x1="2670.00" y1="1199.20" x2="2853.80" y2="1193.50" stroke="#d95f02" stroke-width="2.6" />
<rect x="2853.80" y="1175.50" width="114.30" height="36.00" fill="#fff" stroke="#d95f02" stroke-width="1.6" rx="5"/>
<text x="2910.95" y="1202.00" font-size="23.80" font-weight="normal" fill="#bb5202" text-anchor="middle" >Crossing</text>
<line x1="2670.00" y1="1250.30" x2="2855.80" y2="1250.25" stroke="#1b9e77" stroke-width="2.6" />
<rect x="2855.80" y="1231.90" width="110.30" height="36.70" fill="#fff" stroke="#1b9e77" stroke-width="1.6" rx="5"/>
<text x="2910.95" y="1258.75" font-size="23.80" font-weight="normal" fill="#178866" text-anchor="middle" >Creation</text>
<line x1="2670.00" y1="1300.10" x2="2855.80" y2="1307.00" stroke="#666666" stroke-width="2.6" />
<rect x="2855.80" y="1288.60" width="110.30" height="36.80" fill="#fff" stroke="#666666" stroke-width="1.6" rx="5"/>
<text x="2910.95" y="1315.50" font-size="23.80" font-weight="normal" fill="#585858" text-anchor="middle" >Carrying</text>
<line x1="2670.00" y1="1079.00" x2="2776.40" y2="1087.75" stroke="#5e4fa2" stroke-width="2.6" />
<rect x="2776.40" y="1069.30" width="198.40" height="36.90" fill="#fff" stroke="#5e4fa2" stroke-width="1.6" rx="5"/>
<text x="2875.60" y="1096.25" font-size="23.80" font-weight="normal" fill="#51448b" text-anchor="middle" >Defensive Action</text>
<text x="2551.59" y="1483.40" font-size="34.92" font-weight="normal" font-style="normal" fill="#000" textLength="216.19" lengthAdjust="spacingAndGlyphs" >Similar Players</text>
<rect x="2364.80" y="1527.70" width="528.80" height="42.60" fill="#fe8087" stroke="#000" stroke-width="2.6" />
<text x="2193.30" y="1544.70" font-size="26.82" font-weight="normal" font-style="normal" fill="#000" textLength="126.74" lengthAdjust="spacingAndGlyphs" >Saidou Sow</text>
<text x="2183.10" y="1574.60" font-size="26.82" font-weight="normal" font-style="normal" fill="#000" textLength="137.81" lengthAdjust="spacingAndGlyphs" >(Strasbourg)</text>
<rect x="2854.00" y="1531.80" width="76.70" height="34.20" fill="#fff" stroke="#000" stroke-width="1.3" rx="5"/>
<text x="2892.35" y="1557.00" font-size="19.50" font-weight="normal" fill="#000" text-anchor="middle" >98.3%</text>
<rect x="2364.80" y="1612.25" width="526.30" height="42.60" fill="#fe8087" stroke="#000" stroke-width="2.6" />
<text x="2179.10" y="1629.25" font-size="26.82" font-weight="normal" font-style="normal" fill="#000" textLength="142.61" lengthAdjust="spacingAndGlyphs" >Yannik Keitel</text>
<text x="2212.88" y="1659.15" font-size="26.82" font-weight="normal" font-style="normal" fill="#000" textLength="108.69" lengthAdjust="spacingAndGlyphs" >(Freiburg)</text>
<rect x="2851.90" y="1616.35" width="76.80" height="34.20" fill="#fff" stroke="#000" stroke-width="1.3" rx="5"/>
<text x="2890.30" y="1641.55" font-size="19.50" font-weight="normal" fill="#000" text-anchor="middle" >97.9%</text>
<rect x="2364.80" y="1696.80" width="522.60" height="42.60" fill="#fe8087" stroke="#000" stroke-width="2.6" />
<text x="2176.80" y="1713.80" font-size="26.82" font-weight="normal" font-style="normal" fill="#000" textLength="143.76" lengthAdjust="spacingAndGlyphs" >Jesus Vallejo</text>
<text x="2212.51" y="1743.70" font-size="26.82" font-weight="normal" font-style="normal" fill="#000" textLength="108.19" lengthAdjust="spacingAndGlyphs" >(Granada)</text>
<rect x="2848.50" y="1700.90" width="76.40" height="34.20" fill="#fff" stroke="#000" stroke-width="1.3" rx="5"/>
<text x="2886.70" y="1726.10" font-size="19.50" font-weight="normal" fill="#000" text-anchor="middle" >97.2%</text>
<rect x="2364.80" y="1781.35" width="521.30" height="42.60" fill="#fe8087" stroke="#000" stroke-width="2.6" />
<text x="2188.19" y="1798.35" font-size="26.82" font-weight="normal" font-style="normal" fill="#000" textLength="133.33" lengthAdjust="spacingAndGlyphs" >Eric Curbelo</text>
<text x="2176.10" y="1828.25" font-size="26.82" font-weight="normal" font-style="normal" fill="#000" textLength="144.88" lengthAdjust="spacingAndGlyphs" >(Las Palmas)</text>
<rect x="2855.60" y="1785.45" width="59.70" height="34.20" fill="#fff" stroke="#000" stroke-width="1.3" rx="5"/>
<text x="2885.45" y="1810.65" font-size="19.50" font-weight="normal" fill="#000" text-anchor="middle" >97%</text>
<rect x="2364.80" y="1865.90" width="520.50" height="42.60" fill="#fe8087" stroke="#000" stroke-width="2.6" />
<text x="2095.50" y="1882.90" font-size="26.82" font-weight="normal" font-style="normal" fill="#000" textLength="225.03" lengthAdjust="spacingAndGlyphs" >Leander Dendoncker</text>
<text x="2101.80" y="1912.80" font-size="26.82" font-weight="normal" font-style="normal" fill="#000" textLength="219.01" lengthAdjust="spacingAndGlyphs" >(Aston Villa, Napoli)</text>
<rect x="2846.90" y="1870.00" width="75.90" height="34.20" fill="#fff" stroke="#000" stroke-width="1.3" rx="5"/>
<text x="2884.85" y="1895.20" font-size="19.50" font-weight="normal" fill="#000" text-anchor="middle" >96.9%</text>
<text x="59.70" y="1989.80" font-size="26.68" font-weight="normal" font-style="italic" fill="#000" textLength="353.74" lengthAdjust="spacingAndGlyphs" >Source: Understat, Opta via FBref</text>
<text x="59.70" y="2029.80" font-size="26.68" font-weight="normal" font-style="italic" fill="#000" textLength="2892.44" lengthAdjust="spacingAndGlyphs" >Notes: Created by @macro_football on 2024-06-01. All percentiles and metrics are relative to all players in the top 5 European leagues. Overall is the player's expected points above replacement (xPAR) percentile. Offense and Defense Impact percentiles and Z-Scores are</text>
<text x="59.70" y="2069.75" font-size="26.68" font-weight="normal" font-style="italic" fill="#000" textLength="2876.37" lengthAdjust="spacingAndGlyphs" >the player's isolated impact on xGF and xGA (or GF and GA) per 90, controlling for teammates, opposition players, managers, score, situation, etc..., scaled relative to European Top 5 League average. Finishing (or Saving) Impact percentiles and Z-Scores are the player's</text>
<text x="60.70" y="2109.70" font-size="26.68" font-weight="normal" font-style="italic" fill="#000" textLength="2901.28" lengthAdjust="spacingAndGlyphs" >impact on shot xG, relative to European Top 5 League average. Shot (or xG) Share is the share of the team's shots (or xG) that the player takes when on the field. Usage is the share of the team's xG that the player is responsible for when on the field via either shots or shot</text>
<text x="59.70" y="2149.65" font-size="26.68" font-weight="normal" font-style="italic" fill="#000" textLength="2900.40" lengthAdjust="spacingAndGlyphs" >assists. Individual characteristics (i.e. dribbling and creating) are based on a dimensionality reduction of each player's micro-statistics (i.e. short pass attempts and interceptions). Player types (i.e. ball-playing defender) are based on a clustering analysis of every player's</text>
<text x="60.70" y="2189.60" font-size="26.68" font-weight="normal" font-style="italic" fill="#000" textLength="998.65" lengthAdjust="spacingAndGlyphs" >individual characteristics. Player similarity scores are based on the same clustering analysis.</text>
</svg>
</body></html>
